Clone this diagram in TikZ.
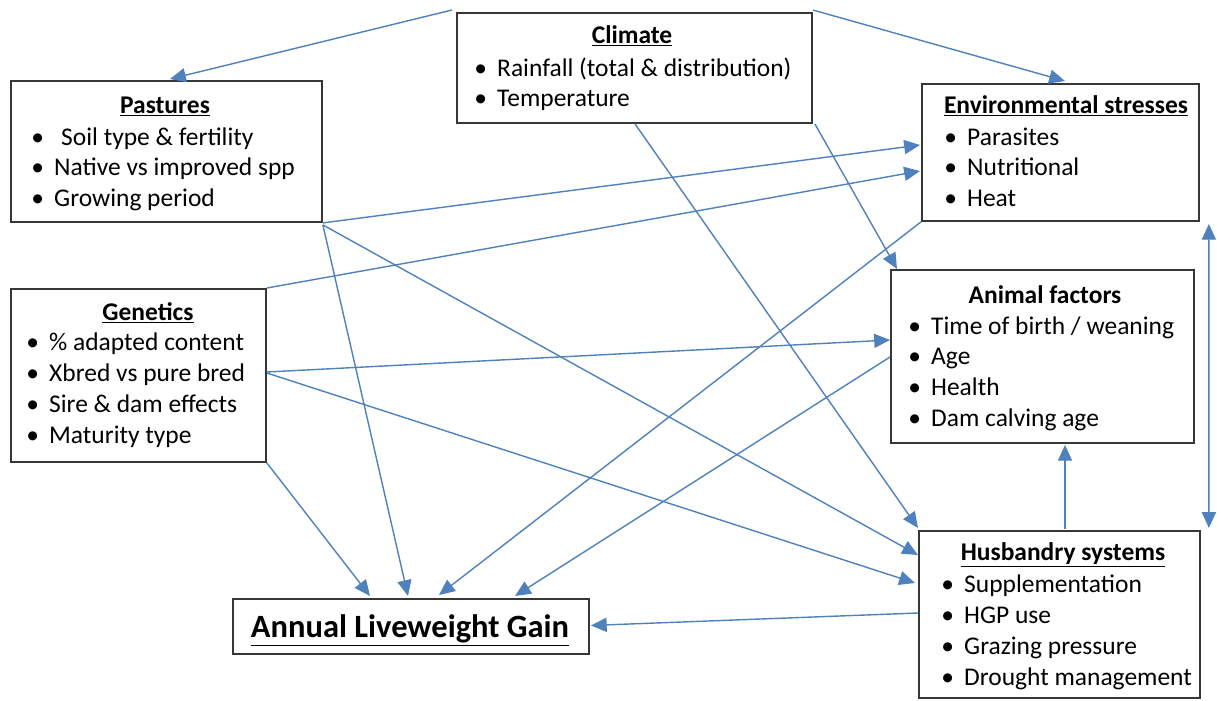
\documentclass[tikz,border=0pt]{standalone}
\usepackage{fontspec}
\setmainfont{Carlito}
\usetikzlibrary{arrows.meta,calc}
\definecolor{arr}{RGB}{79,129,189}
\definecolor{boxc}{RGB}{55,55,55}
\tikzset{
 x=0.02cm, y=-0.02cm,
 box/.style={draw=boxc, line width=1.1pt, fill=white, inner sep=0pt, anchor=north west},
 ttl/.style={font=\fontsize{14.5pt}{17.6pt}\selectfont\bfseries, anchor=base, inner sep=0pt},
 itm/.style={font=\fontsize{14.5pt}{17.6pt}\selectfont, anchor=base west, inner sep=0pt},
 conn/.style={draw=arr, line width=0.8pt, -{Triangle[length=9pt,width=8pt]}},
 biconn/.style={draw=arr, line width=0.8pt, {Triangle[length=9pt,width=8pt]}-{Triangle[length=9pt,width=8pt]}},
}
\newcommand\bl{\hbox to 13pt{\textbullet\hfil}}
\begin{document}
\begin{tikzpicture}
\useasboundingbox (0,0) rectangle (1217,700);
% boxes
\node[box, minimum width=7.10cm, minimum height=2.20cm] (clim) at (456,12) {};
\node[box, minimum width=6.22cm, minimum height=2.82cm] (pas) at (10,80) {};
\node[box, minimum width=5.54cm, minimum height=2.74cm] (env) at (921,83) {};
\node[box, minimum width=5.10cm, minimum height=3.46cm] (gen) at (10,288) {};
\node[box, minimum width=6.06cm, minimum height=3.46cm] (ani) at (890,269) {};
\node[box, minimum width=5.62cm, minimum height=3.34cm] (hus) at (918,530) {};
\node[box, minimum width=7.12cm, minimum height=1.10cm] (alg) at (232,598) {};
% titles
\node[ttl] (clim-t) at (632,43) {\underline{Climate}};
\node[ttl] (pas-t) at (165,113) {\underline{Pastures}};
\node[ttl] (env-t) at (1066,113) {\underline{Environmental stresses}};
\node[ttl] (gen-t) at (148,320) {\underline{Genetics}};
\node[ttl] (ani-t) at (1045,303) {Animal factors};
\node[ttl] (hus-t) at (1063,560) {\underline{Husbandry systems}};
\node[ttl, font=\fontsize{18.5pt}{22pt}\selectfont\bfseries] (alg-t) at (410,637) {\underline{Annual Liveweight Gain}};
% items
\foreach \t [count=\i from 0] in {{Rainfall (total \& distribution)}, Temperature}
  \node[itm] (clim-\i) at (474, 76+30.5*\i) {\bl\t};
\foreach \t [count=\i from 0] in {{\hspace{4pt}Soil type \& fertility}, {Native vs improved spp}, {Growing period}}
  \node[itm] (pas-\i) at (31, 145+30.5*\i) {\bl\t};
\foreach \t [count=\i from 0] in {Parasites, Nutritional, Heat}
  \node[itm] (env-\i) at (944, 145+30.5*\i) {\bl\t};
\foreach \t [count=\i from 0] in {{\% adapted content}, {Xbred vs pure bred}, {Sire \& dam effects}, {Maturity type}}
  \node[itm] (gen-\i) at (26, 350+31*\i) {\bl\t};
\foreach \t [count=\i from 0] in {{Time of birth / weaning}, Age, Health, {Dam calving age}}
  \node[itm] (ani-\i) at (908, 334+30.7*\i) {\bl\t};
\foreach \t [count=\i from 0] in {Supplementation, {HGP use}, {Grazing pressure}, {Drought management}}
  \node[itm] (hus-\i) at (941, 592+31*\i) {\bl\t};
% connectors
\draw[conn] ($(clim.north west)+(-4,-2)$) -- ($(pas.north west)+(160,-1)$);
\draw[conn] ($(clim.north east)+(0,-2)$) -- ($(env.north west)+(144,-2)$);
\draw[conn] (pas.south east) -- ($(env.north west)+(-1,62)$);
\draw[conn] (gen.north east) -- ($(env.north west)+(-1,88)$);
\draw[conn] ($(clim.south west)+(179,0)$) -- ($(hus.north west)+(0,-2)$);
\draw[conn] ($(clim.south east)+(2,0)$) -- ($(ani.north west)+(7,0)$);
\draw[conn] ($(pas.south east)+(0,2)$) -- ($(hus.north west)+(0,25)$);
\draw[conn] ($(pas.south east)+(0,2)$) -- ($(alg.north west)+(176,-2)$);
\draw[conn] (gen.south east) -- ($(alg.north west)+(138,-2)$);
\draw[conn] (env.south west) -- ($(alg.north west)+(207,-3)$);
\draw[conn] ($(ani.north west)+(0,88)$) -- ($(alg.north west)+(283,-2)$);
\draw[conn] ($(gen.north east)+(0,84)$) -- ($(ani.north west)+(0,71)$);
\draw[conn] ($(gen.north east)+(0,85)$) -- ($(hus.north west)+(-3,53)$);
\draw[conn] ($(hus.north west)+(0,83)$) -- ($(alg.east)+(1,-1)$);
\draw[conn] ($(hus.north west)+(147,-1)$) -- ($(ani.south west)+(175,1)$);
\draw[biconn] ($(env.south east)+(9,2)$) -- ($(hus.north east)+(8,-2)$);
\end{tikzpicture}
\end{document}
